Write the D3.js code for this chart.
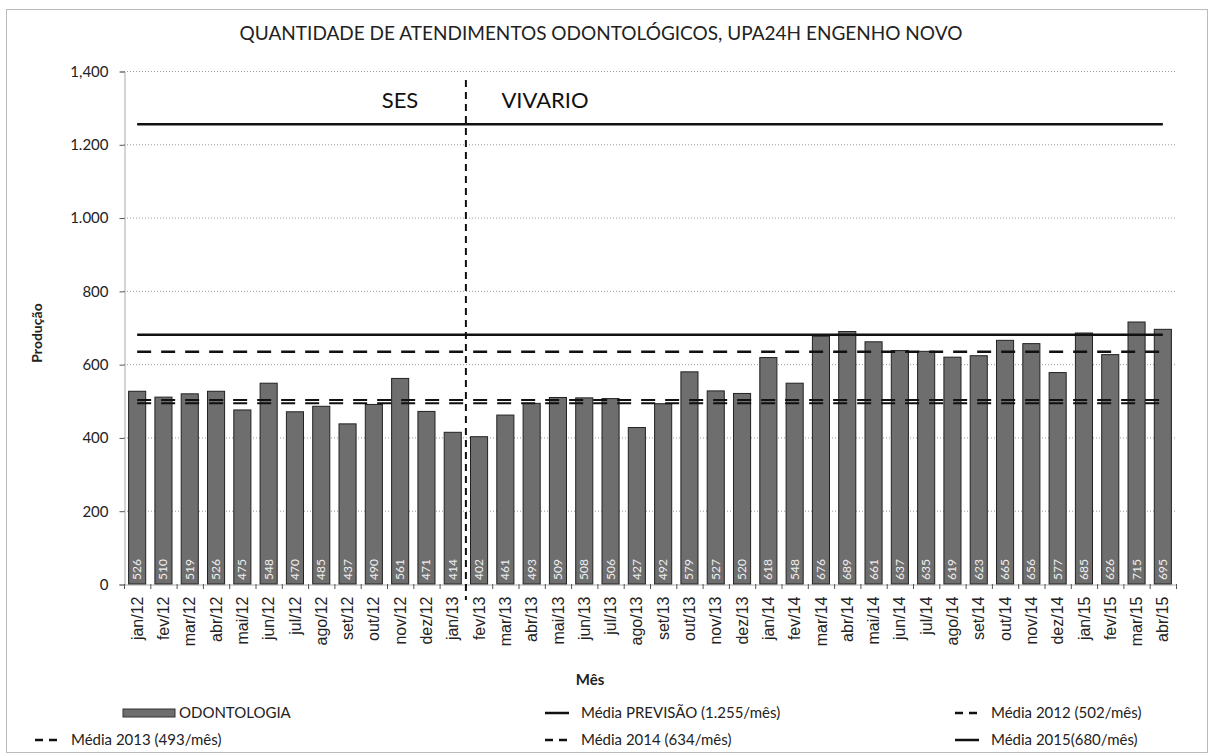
<!DOCTYPE html>
<html>
<head>
<meta charset="utf-8">
<script src="https://cdn.jsdelivr.net/npm/d3@7"></script>
<style>
  body { margin: 0; background: #fff; }
  svg { display: block; font-family: Lato, "Open Sans", sans-serif; }
</style>
</head>
<body>
<svg id="chart" width="1211" height="755"></svg>
<script>
// months on the x axis
var months = ["jan/12","fev/12","mar/12","abr/12","mai/12","jun/12","jul/12","ago/12","set/12","out/12","nov/12","dez/12",
  "jan/13","fev/13","mar/13","abr/13","mai/13","jun/13","jul/13","ago/13","set/13","out/13","nov/13","dez/13",
  "jan/14","fev/14","mar/14","abr/14","mai/14","jun/14","jul/14","ago/14","set/14","out/14","nov/14","dez/14",
  "jan/15","fev/15","mar/15","abr/15"];

// ODONTOLOGIA - monthly production
var odontologia = [526,510,519,526,475,548,470,485,437,490,561,471,
  414,402,461,493,509,508,506,427,492,579,527,520,
  618,548,676,689,661,637,635,619,623,665,656,577,
  685,626,715,695];

// reference lines (averages)
var mediaPrevisao = 1255;
var media2012 = 502;
var media2013 = 493;
var media2014 = 634;
var media2015 = 680;

var yTicks = [0,200,400,600,800,1000,1200,1400];
var yTickLabels = ["0","200","400","600","800","1.000","1.200","1,400"];

(function () {
var svg = d3.select("#chart");
var W = 1211, H = 755;
var m = {left: 124, right: 1176, top: 71, bottom: 584};

// outer dotted border
svg.append("rect")
  .attr("x", 6.5).attr("y", 9.5).attr("width", W - 10).attr("height", H - 12)
  .attr("fill", "none").attr("stroke", "#777").attr("stroke-dasharray", "1,1");

svg.append("text")
  .attr("x", 601).attr("y", 40)
  .attr("text-anchor", "middle")
  .attr("font-size", 19)
  .attr("fill", "#222")
  .text("QUANTIDADE DE ATENDIMENTOS ODONTOLÓGICOS, UPA24H ENGENHO NOVO");

var x = d3.scaleBand().domain(months).range([m.left, m.right]).paddingInner(0.35).paddingOuter(0.175);
var xc = d3.scalePoint().domain(months).range([m.left, m.right]).padding(0.5);
var y = d3.scaleLinear().domain([0, 1400]).range([m.bottom, m.top]);

// gridlines
svg.append("g").selectAll("line")
  .data(yTicks.slice(1))
  .enter().append("line")
  .attr("x1", m.left).attr("x2", m.right)
  .attr("y1", d => y(d) + 0.5).attr("y2", d => y(d) + 0.5)
  .attr("stroke", "#999").attr("stroke-dasharray", "1,2");

// y axis
var yAxis = svg.append("g")
  .attr("transform", "translate(" + (m.left + 0.5) + ",0.5)")
  .call(d3.axisLeft(y).tickValues(yTicks).tickSize(5).tickFormat((d, i) => yTickLabels[i]));
yAxis.select(".domain").attr("stroke", "#555").attr("stroke-dasharray", "1,1");
yAxis.selectAll(".tick line").attr("stroke", "#555");
yAxis.selectAll("text").attr("font-size", 15).attr("fill", "#222").attr("x", -16)
  .attr("font-family", "Lato, sans-serif");

svg.append("text")
  .attr("transform", "translate(42,333) rotate(-90)")
  .attr("text-anchor", "middle")
  .attr("font-size", 14).attr("font-weight", "bold").attr("fill", "#222")
  .text("Produção");

// bars
svg.append("g").selectAll("rect")
  .data(odontologia)
  .enter().append("rect")
  .attr("x", (d, i) => x(months[i]))
  .attr("y", d => y(d))
  .attr("width", x.bandwidth())
  .attr("height", d => m.bottom - y(d))
  .attr("fill", "#6e6e6e")
  .attr("stroke", "#222").attr("stroke-width", 1);

// value labels inside bars
svg.append("g").selectAll("text")
  .data(odontologia)
  .enter().append("text")
  .attr("transform", (d, i) => "translate(" + (xc(months[i]) + 4) + "," + (m.bottom - 4) + ") rotate(-90)")
  .attr("font-size", 12).attr("fill", "#eeeeee")
  .text(d => d);

// x axis
var xAxis = svg.append("g")
  .attr("transform", "translate(0," + (m.bottom + 0.5) + ")")
  .call(d3.axisBottom(x).tickSize(0));
xAxis.select(".domain").attr("stroke", "#555").attr("stroke-dasharray", "1,1");
xAxis.selectAll(".tick text")
  .attr("transform", "rotate(-90)")
  .attr("text-anchor", "end")
  .attr("x", -12).attr("y", 0).attr("dy", "0.35em")
  .attr("font-size", 16).attr("fill", "#222");
// tick marks between categories
svg.append("g").selectAll("line")
  .data(d3.range(months.length + 1))
  .enter().append("line")
  .attr("x1", i => m.left + i * x.step() + 0.5).attr("x2", i => m.left + i * x.step() + 0.5)
  .attr("y1", m.bottom).attr("y2", m.bottom + 5)
  .attr("stroke", "#555");

svg.append("text")
  .attr("x", 590).attr("y", 685)
  .attr("text-anchor", "middle")
  .attr("font-size", 15).attr("font-weight", "bold").attr("fill", "#222")
  .text("Mês");

// horizontal average lines
var first = xc(months[0]), last = xc(months[months.length - 1]);
function hline(v, dash, w) {
  svg.append("line")
    .attr("x1", first).attr("x2", last)
    .attr("y1", y(v)).attr("y2", y(v))
    .attr("stroke", "#111").attr("stroke-width", w)
    .attr("stroke-dasharray", dash);
}
hline(mediaPrevisao, null, 2.5);
hline(media2015, null, 2.5);
hline(media2014, "14,10", 2.5);
hline(media2012, "14,10", 2);
hline(media2013, "14,10", 2);

// SES / VIVARIO separator
var sepX = m.left + 13 * x.step();
svg.append("line")
  .attr("x1", sepX).attr("x2", sepX)
  .attr("y1", 80).attr("y2", 600)
  .attr("stroke", "#111").attr("stroke-width", 2)
  .attr("stroke-dasharray", "7,5");
svg.append("text").attr("x", 400).attr("y", 108).attr("text-anchor", "middle")
  .attr("font-size", 22).attr("fill", "#111").text("SES");
svg.append("text").attr("x", 545).attr("y", 108).attr("text-anchor", "middle")
  .attr("font-size", 22).attr("fill", "#111").text("VIVARIO");

// legend
var legend = [
  {label: "ODONTOLOGIA", type: "bar", x: 123, y: 713},
  {label: "Média PREVISÃO (1.255/mês)", type: "solid", x: 545, y: 713},
  {label: "Média 2012 (502/mês)", type: "dash", x: 955, y: 713},
  {label: "Média 2013 (493/mês)", type: "dash", x: 35, y: 740},
  {label: "Média 2014 (634/mês)", type: "dash", x: 545, y: 740},
  {label: "Média 2015(680/mês)", type: "solid", x: 955, y: 740}
];
var lg = svg.append("g").selectAll("g").data(legend).enter().append("g")
  .attr("transform", d => "translate(" + d.x + "," + d.y + ")");
lg.filter(d => d.type === "bar").append("rect")
  .attr("x", 0).attr("y", -4).attr("width", 52).attr("height", 8)
  .attr("fill", "#6e6e6e").attr("stroke", "#333");
lg.filter(d => d.type !== "bar").append("line")
  .attr("x1", 0).attr("x2", 24).attr("y1", 0).attr("y2", 0)
  .attr("stroke", "#111").attr("stroke-width", 2.5)
  .attr("stroke-dasharray", d => d.type === "dash" ? "8,6" : null);
lg.append("text")
  .attr("x", d => d.type === "bar" ? 56 : 36).attr("y", 0).attr("dy", "0.35em")
  .attr("font-size", 15).attr("fill", "#222")
  .text(d => d.label);
})();
</script>
</body>
</html>
